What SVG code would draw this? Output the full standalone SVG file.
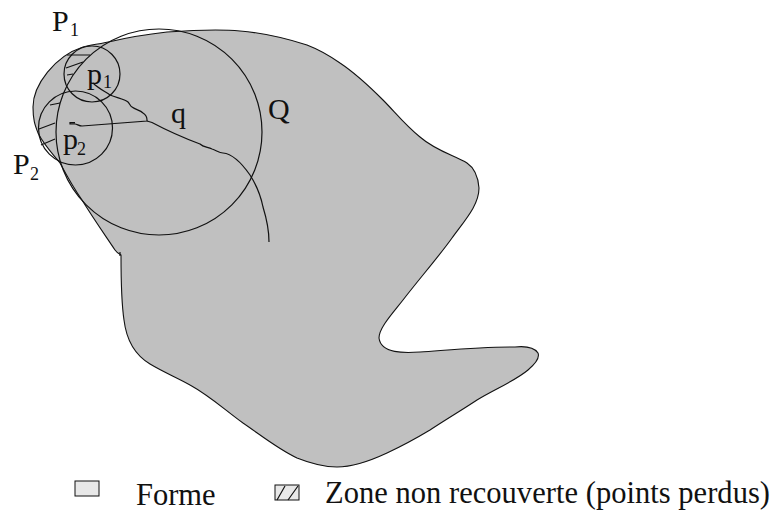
<svg xmlns="http://www.w3.org/2000/svg" width="776" height="516" viewBox="0 0 776 516">
<style>
.o{fill:none;stroke:#111;stroke-width:1.2}
text{font-family:"Liberation Serif","Times New Roman",serif;fill:#111}
.l{font-size:30px}
.s{font-size:18px}
.t{font-size:30.500px}
</style>
<rect width="776" height="516" fill="#fff"/>
<g id="forme">
<path d="M121 255C121 275 121 300 124 320C127 345 140 358 150 364C165 373 178 378 190 385C210 396 225 410 243 423C262 436 278 449 297 458C312 464 325 467 337 467C355 467 372 460 387 453C402 446 415 439 430 430C445 420 462 410 477 400C495 389 515 381 528 370C534 365 540 358 538 353C534 347 525 346 515 347C480 347 450 350 420 352C405 353 381 354 379 338C379 328 392 314 403 300C420 278 440 255 452 238C465 220 479 205 479 188C478 175 473 167 467 163C456 156 436 151 420 137C405 125 395 112 383 100C370 87 355 73 340 63C330 56 320 50 307 45C285 38 265 33 240 31C220 29 195 30 167 32C150 34 130 37 113 41C100 44 90 45 83 47C55 56 33 85 33 107C33 120 35 125 38 133C44 145 52 153 60 163C68 178 75 190 82 200C93 218 105 235 115 250C117 253 119 254 121 255Z" fill="#c0c0c0" stroke="#111" stroke-width="1.100"/>
</g>
<g id="zones">
<path class="o" d="M67 55H90M66 68L83 62M67 75L73 74M50 105L60 103M39 129L55 123M41 145L55 139"/>
</g>
<g id="circles">
<circle id="Q" class="o" cx="159" cy="132" r="103"/>
<circle id="p1" class="o" cx="92" cy="74" r="28"/>
<circle id="p2" class="o" cx="75.500" cy="128" r="37"/>
</g>
<g id="connectors">
<path class="o" d="M93 83C98 88 104 91 110 95C117 98 124 99 128 102C130 104 130 106 132 107C136 110 140 110 143 113C146 115 147 118 147 120V121L82 126C79 126 77 124 75 124H70V122.700H75"/>
<path class="o" d="M147 121L152 122.500C168 131 184 138 200 144C203 147 207 147 212 149C216 150 219 153 223 153C234 154 243 165 250 175C257 186 261 197 263 207C267 220 269 230 269 242"/>
<path class="o" d="M120 252V256"/>
</g>
<g id="labels">
<text class="l" x="52" y="31">P</text><text class="s" x="70" y="36">1</text>
<text class="l" x="13" y="174">P</text><text class="s" x="30" y="180">2</text>
<text class="l" x="87" y="84">p</text><text class="s" x="103" y="88">1</text>
<text class="l" x="63" y="149">p</text><text class="s" x="77" y="155">2</text>
<text class="l" x="171" y="123">q</text>
<text class="l" x="268" y="119">Q</text>
</g>
<g id="legend">
<rect x="75" y="481" width="24" height="15" fill="#e8e8e8" stroke="#111"/>
<text class="t" x="136" y="505">Forme</text>
<rect x="275" y="485" width="24" height="15" fill="#e8e8e8" stroke="#111"/>
<path d="M277 500L285 486M288 500L298 486" class="o"/>
<text class="t" x="325" y="503" textLength="445">Zone non recouverte (points perdus)</text>
</g>
</svg>
